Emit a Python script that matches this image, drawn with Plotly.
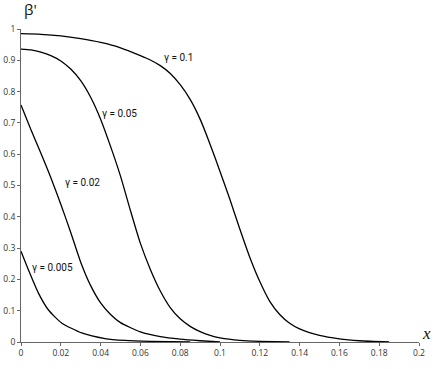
import plotly.graph_objects as go

# curve gamma = 0.1
x_g100 = [0, 0.01, 0.02, 0.03, 0.04, 0.05, 0.06, 0.065, 0.07, 0.075, 0.08, 0.085, 0.09, 0.095,
          0.1, 0.105, 0.11, 0.115, 0.12, 0.125, 0.13, 0.135, 0.14, 0.15, 0.16, 0.17, 0.185]
y_g100 = [0.985, 0.983, 0.978, 0.969, 0.957, 0.940, 0.915, 0.901, 0.883, 0.858, 0.822, 0.775,
          0.712, 0.632, 0.545, 0.455, 0.360, 0.270, 0.193, 0.130, 0.088, 0.060, 0.042, 0.021,
          0.010, 0.004, 0.0]

# curve gamma = 0.05
x_g050 = [0, 0.005, 0.01, 0.015, 0.02, 0.025, 0.03, 0.035, 0.04, 0.045, 0.05, 0.055, 0.06,
          0.065, 0.07, 0.075, 0.08, 0.085, 0.09, 0.095, 0.1, 0.11, 0.12, 0.135]
y_g050 = [0.936, 0.933, 0.926, 0.915, 0.898, 0.872, 0.835, 0.782, 0.712, 0.625, 0.530, 0.420,
          0.315, 0.232, 0.163, 0.110, 0.074, 0.050, 0.033, 0.021, 0.013, 0.005, 0.002, 0.0]

# curve gamma = 0.02
x_g020 = [0, 0.005, 0.01, 0.015, 0.02, 0.025, 0.03, 0.035, 0.04, 0.045, 0.05, 0.06, 0.07,
          0.08, 0.09, 0.1]
y_g020 = [0.757, 0.678, 0.603, 0.525, 0.440, 0.350, 0.255, 0.180, 0.125, 0.088, 0.062, 0.032,
          0.017, 0.009, 0.004, 0.0]

# curve gamma = 0.005
x_g005 = [0, 0.0037, 0.0087, 0.0137, 0.0204, 0.0305, 0.0422, 0.0523, 0.065, 0.085]
y_g005 = [0.290, 0.231, 0.157, 0.103, 0.061, 0.029, 0.011, 0.005, 0.002, 0.0]

curves = [(x_g100, y_g100), (x_g050, y_g050), (x_g020, y_g020), (x_g005, y_g005)]

# label positions
label_text = ['γ = 0.1', 'γ = 0.05', 'γ = 0.02', 'γ = 0.005']
label_x = [0.0792, 0.0497, 0.0308, 0.0158]
label_y = [0.91, 0.729, 0.51, 0.237]

fig = go.Figure()
for cx, cy in curves:
    fig.add_trace(go.Scatter(
        x=cx, y=cy, mode='lines',
        line=dict(color='black', width=1.3, shape='spline', smoothing=0.6),
        showlegend=False,
    ))

for t, lx, ly in zip(label_text, label_x, label_y):
    fig.add_annotation(x=lx, y=ly, text=t, showarrow=False,
                       font=dict(family='Roboto', size=10, color='#111'))

fig.add_annotation(x=0.2, y=0, xref='x', yref='y', text='<i>x</i>', showarrow=False,
                   xanchor='left', yanchor='bottom', xshift=1, yshift=-3,
                   font=dict(family='Liberation Serif', size=17, color='#111'))
fig.add_annotation(x=0, y=1, xref='x', yref='y', text="β'", showarrow=False,
                   xanchor='left', yanchor='bottom', xshift=1, yshift=8,
                   font=dict(size=15, color='#111'))

axis_style = dict(
    showgrid=False, zeroline=False, showline=True, linecolor='#666', linewidth=1,
    ticks='outside', ticklen=3, tickcolor='#666', tickwidth=1,
    tickfont=dict(size=8.5, color='#333'), automargin=False,
)
fig.update_xaxes(range=[0, 0.2], dtick=0.02, tick0=0, **axis_style)
fig.update_yaxes(range=[0, 1], dtick=0.1, tick0=0, **axis_style)

fig.update_layout(
    width=436, height=369,
    margin=dict(l=21, r=17, t=29, b=27, autoexpand=False),
    plot_bgcolor='white', paper_bgcolor='white',
    font=dict(family='Open Sans'),
)
fig.write_html("out.html", config={'displayModeBar': False},
               post_script="document.body.style.margin='0';")
